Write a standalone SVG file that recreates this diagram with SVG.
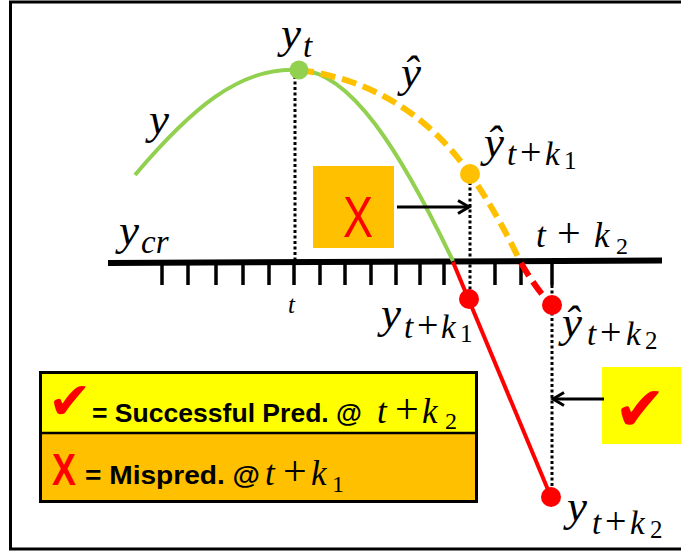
<svg xmlns="http://www.w3.org/2000/svg" width="681" height="553" viewBox="0 0 681 553">
<style>
.m{font-family:"Liberation Serif","DejaVu Serif",serif;font-style:italic;fill:#000}
.u{font-style:normal}
.b{font-family:"Liberation Sans",Arial,sans-serif;font-weight:bold;fill:#000}
.chk{font-family:"DejaVu Sans",sans-serif;fill:#FF0000}
.dot{stroke:#000;stroke-width:3;stroke-dasharray:3 2.5;fill:none}
.tick{stroke:#000;stroke-width:3.5}
.arr{stroke:#000;stroke-width:3;fill:none}
</style>
<defs>
<marker id="ah" markerUnits="userSpaceOnUse" markerWidth="18" markerHeight="18" refX="13" refY="8" orient="auto">
<path d="M2,1.5 L13,8 L2,14.5" fill="none" stroke="#000" stroke-width="3"/>
</marker>
</defs>
<rect x="10.5" y="2" width="700" height="547" fill="#fff" stroke="#000" stroke-width="3"/>

<g id="axis">
<line x1="108" y1="263" x2="662" y2="260.5" stroke="#000" stroke-width="6"/>
<g class="tick">
<line x1="162" y1="262" x2="162" y2="285"/>
<line x1="188" y1="262" x2="188" y2="285"/>
<line x1="216" y1="262" x2="216" y2="285"/>
<line x1="243" y1="262" x2="243" y2="285"/>
<line x1="269" y1="262" x2="269" y2="285"/>
<line x1="294" y1="262" x2="294" y2="285"/>
<line x1="320" y1="262" x2="320" y2="285"/>
<line x1="345" y1="262" x2="345" y2="285"/>
<line x1="371" y1="262" x2="371" y2="285"/>
<line x1="396" y1="262" x2="396" y2="285"/>
<line x1="420" y1="262" x2="420" y2="285"/>
<line x1="444" y1="262" x2="444" y2="285"/>
<line x1="495" y1="262" x2="495" y2="285"/>
<line x1="521" y1="262" x2="521" y2="285"/>
<line x1="552" y1="262" x2="552" y2="285"/>
</g>
<text class="m" x="288" y="313" font-size="25">t</text>
</g>

<g id="guides">
<line class="dot" x1="295" y1="76" x2="295" y2="262"/>
<line class="dot" x1="470" y1="182" x2="470" y2="298"/>
<line class="dot" x1="552" y1="285" x2="552" y2="496"/>
</g>

<g id="series">
<path id="y-actual" d="M135,175 C190,110 240,66 299,70 C350,71 400,150 453,261" fill="none" stroke="#92D050" stroke-width="4"/>
<path id="y-pred" d="M299,70 C365,78 425,110 470,174 C490,203 505,230 519,259" fill="none" stroke="#FFC000" stroke-width="6" stroke-dasharray="15 7"/>
<path id="y-pred-red" d="M521,263 Q538,292 552,305" fill="none" stroke="#FF0000" stroke-width="6" stroke-dasharray="15 7"/>
<line id="y-actual-red" x1="453" y1="262" x2="551" y2="497" stroke="#FF0000" stroke-width="4"/>
</g>

<g id="dots">
<circle cx="299" cy="70" r="9.5" fill="#92D050"/>
<circle cx="470" cy="174" r="10" fill="#FFC000"/>
<circle cx="469" cy="299" r="10" fill="#FF0000"/>
<circle cx="552" cy="305" r="10" fill="#FF0000"/>
<circle cx="551" cy="497" r="10" fill="#FF0000"/>
</g>

<g id="labels">
<text class="m" x="281" y="48" font-size="45">y<tspan x="303" y="57" font-size="33">t</tspan></text>
<text class="m" x="401" y="87" font-size="45">ŷ</text>
<text class="m" x="149" y="134" font-size="45">y</text>
<text class="m" x="484" y="157" font-size="45">ŷ<tspan x="507" y="165" font-size="33">t</tspan><tspan class="u" x="520" y="165" font-size="38">+</tspan><tspan x="545" y="165" font-size="33">k</tspan><tspan class="u" x="564" y="169" font-size="25">1</tspan></text>
<text class="m" x="119" y="245" font-size="45">y<tspan x="141" y="253" font-size="33">cr</tspan></text>
<text class="m" x="536" y="247" font-size="35">t<tspan class="u" x="557" font-size="42">+</tspan><tspan x="594">k</tspan><tspan class="u" x="616" y="254" font-size="24">2</tspan></text>
<text class="m" x="381" y="328" font-size="45">y<tspan x="404" y="338" font-size="33">t</tspan><tspan class="u" x="417" y="338" font-size="38">+</tspan><tspan x="441" y="338" font-size="33">k</tspan><tspan class="u" x="460" y="342" font-size="25">1</tspan></text>
<text class="m" x="562" y="337" font-size="45">ŷ<tspan x="587" y="345" font-size="33">t</tspan><tspan class="u" x="600" y="345" font-size="38">+</tspan><tspan x="626" y="345" font-size="33">k</tspan><tspan class="u" x="645" y="349" font-size="25">2</tspan></text>
<text class="m" x="567" y="521" font-size="45">y<tspan x="592" y="534" font-size="33">t</tspan><tspan class="u" x="605" y="534" font-size="38">+</tspan><tspan x="630" y="534" font-size="33">k</tspan><tspan class="u" x="650" y="538" font-size="25">2</tspan></text>
</g>

<g id="miss-box">
<rect x="313" y="166" width="81" height="82" fill="#FFC000"/>
<text x="343" y="237" font-family="'Liberation Sans',Arial,sans-serif" font-size="58" fill="#FF0000" textLength="30" lengthAdjust="spacingAndGlyphs">X</text>
</g>

<g id="hit-box">
<rect x="602" y="367" width="90" height="77" fill="#FFFF00"/>
<text class="chk" x="614" y="430" font-size="62">✔</text>
</g>

<g id="connectors">
<line class="arr" x1="397" y1="207" x2="469" y2="207" marker-end="url(#ah)"/>
<line class="arr" x1="604" y1="399" x2="553" y2="399" marker-end="url(#ah)"/>
</g>

<g id="legend">
<rect x="40.5" y="372.5" width="436" height="60.5" fill="#FFFF00"/>
<rect x="40.5" y="433" width="436" height="68.5" fill="#FFC000"/>
<rect x="40.5" y="372.5" width="436" height="129" fill="none" stroke="#000" stroke-width="3"/>
<line x1="40.5" y1="433" x2="476.5" y2="433" stroke="#000" stroke-width="2.5"/>
<text class="chk" x="48" y="419" font-size="52">✔</text>
<text class="b" x="92" y="422" font-size="26.5" textLength="270" lengthAdjust="spacingAndGlyphs">= Successful Pred. @</text>
<text class="m" x="377" y="423" font-size="35">t<tspan class="u" x="395" font-size="42">+</tspan><tspan x="422">k</tspan><tspan class="u" x="445" y="429" font-size="24">2</tspan></text>
<text x="52" y="485" font-family="'Liberation Sans',Arial,sans-serif" font-weight="bold" font-size="44" fill="#FF0000" textLength="24" lengthAdjust="spacingAndGlyphs">X</text>
<text class="b" x="85" y="484" font-size="26" textLength="175" lengthAdjust="spacingAndGlyphs">= Mispred. @</text>
<text class="m" x="265" y="485" font-size="35">t<tspan class="u" x="283" font-size="42">+</tspan><tspan x="311">k</tspan><tspan class="u" x="332" y="492" font-size="24">1</tspan></text>
</g>
</svg>
